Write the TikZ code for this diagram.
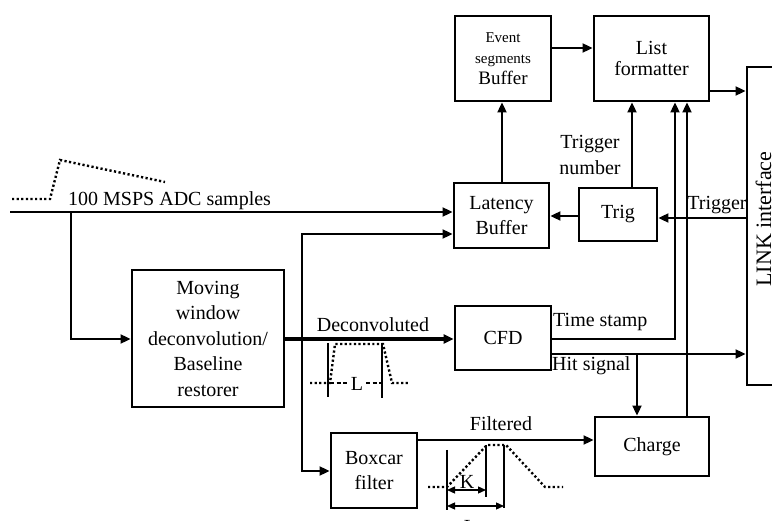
\documentclass[tikz,border=0pt]{standalone}
\usepackage{fontspec}
\setmainfont{Liberation Serif}
\usetikzlibrary{arrows.meta}
\begin{document}
\begin{tikzpicture}[x=1pt,y=-1pt,
  box/.style={draw,line width=2.8pt,rectangle,inner sep=0pt,align=center,font=\fontsize{20}{25}\selectfont},
  conn/.style={line width=1.8pt,-{Triangle[length=10pt,width=9pt]}},
  line/.style={line width=1.8pt},
  lbl/.style={font=\fontsize{20}{26}\selectfont,inner sep=0pt,align=center},
  pulse/.style={line width=2.4pt,dash pattern=on 2.2pt off 2.4pt},
  thinl/.style={line width=1.3pt},
  dim/.style={line width=1.3pt,{Triangle[length=8pt,width=7pt]}-{Triangle[length=8pt,width=7pt]}}]
\useasboundingbox (0,0) rectangle (772,521);
% boxes
\node[box,minimum width=96,minimum height=85,font=\fontsize{15}{21}\selectfont] (esb) at (503,58.5) {Event\\segments\\\fontsize{19}{21}\selectfont Buffer};
\node[box,minimum width=115,minimum height=85,font=\fontsize{20}{21}\selectfont] (lf) at (651.5,58.5) {List\\formatter};
\node[box,minimum width=60,minimum height=318] (link) at (777,226) {};
\node[lbl,rotate=90,anchor=base,font=\fontsize{22}{24}\selectfont] (linkt) at (771,219) {LINK interface};
\node[box,minimum width=95,minimum height=65] (lat) at (501.5,215.5) {Latency\\Buffer};
\node[box,minimum width=78,minimum height=53] (trig) at (618,214.5) {Trig};
\node[box,minimum width=152,minimum height=137,font=\fontsize{20}{25.5}\selectfont] (mw) at (208,338.5) {Moving\\window\\deconvolution/\\Baseline\\restorer};
\node[box,minimum width=96,minimum height=64] (cfd) at (503,338) {CFD};
\node[box,minimum width=114,minimum height=59] (charge) at (652,446.5) {Charge};
\node[box,minimum width=86,minimum height=75] (boxcar) at (374,470.5) {Boxcar\\filter};
% coordinates
\coordinate (adcin) at (10,212);
\coordinate (adcsplit) at (71,212);
\coordinate (dsplit) at (302,339);
\coordinate (hsplit) at (637,354);
% ADC input
\draw[conn] (adcin) -- (lat.west |- adcin);
\draw[conn] (adcsplit) |- (mw.west |- 0,339);
\node[lbl,anchor=base west] (adcl) at (68,206) {100 MSPS ADC samples};
\draw[pulse] (12,199) -- (50,199) -- (60,160) -- (165,182);
% deconvoluted
\draw[line width=3.2pt,-{Triangle[length=10pt,width=9pt]}] (mw.east |- 0,339) -- (cfd.west |- 0,339);
\node[lbl] (decl) at (373,325) {Deconvoluted};
\draw[conn] (dsplit) |- (lat.west |- 0,234);
\draw[conn] (dsplit) |- (boxcar.west |- 0,471);
% top
\draw[conn] (lat.north -| 502,0) -- (esb.south -| 502,0);
\draw[conn] (esb.east |- 0,48) -- (lf.west |- 0,48);
\draw[conn] (lf.east |- 0,91) -- (link.west |- 0,91);
\draw[conn] (trig.north -| 632,0) -- (lf.south -| 632,0);
\node[lbl,font=\fontsize{20}{26}\selectfont] (trnum) at (590,155) {Trigger\\number};
\draw[conn] (link.west |- 0,218) -- (trig.east |- 0,218);
\node[lbl] (trl) at (717,205) {Trigger};
\draw[conn] (trig.west |- 0,216) -- (lat.east |- 0,216);
% CFD outputs
\draw[conn] (cfd.east |- 0,339) -| (lf.south -| 675,0);
\node[lbl,anchor=west] (tsl) at (553,322) {Time stamp};
\draw[conn] (cfd.east |- 0,354) -- (link.west |- 0,354);
\node[lbl,anchor=west] (hsl) at (552,366) {Hit signal};
\draw[conn] (hsplit) -- (charge.north -| hsplit);
\draw[conn] (charge.north -| 687,0) -- (lf.south -| 687,0);
% filtered
\draw[conn] (boxcar.east |- 0,440) -- (charge.west |- 0,440);
\node[lbl] (fil) at (501,424) {Filtered};
% deconvoluted pulse sketch
\draw[thinl] (328,343) -- (328,397);
\draw[thinl] (382,343) -- (382,398);
\draw[pulse] (310,383) -- (330,383) -- (335,344) -- (383,344) -- (392,383) -- (408,383);
\draw[thinl,dash pattern=on 4pt off 2.5pt] (330,383) -- (349,383);
\draw[thinl,dash pattern=on 4pt off 2.5pt] (366,383) -- (382,383);
\node[lbl,fill=white,inner sep=1pt] (ll) at (357,384) {L};
% filtered pulse sketch
\draw[thinl] (447,450) -- (447,510);
\draw[thinl] (486,445) -- (486,497);
\draw[thinl] (504,445) -- (504,508);
\draw[pulse] (428,487) -- (447,487) -- (487,445) -- (506,445) -- (545,487) -- (563,487);
\draw[dim] (447,490) -- (486,490);
\draw[dim] (447,506) -- (504,506);
\node[lbl] (kl) at (467,482) {K};
\node[lbl] (lbl2) at (470,527) {L};
\end{tikzpicture}
\end{document}
